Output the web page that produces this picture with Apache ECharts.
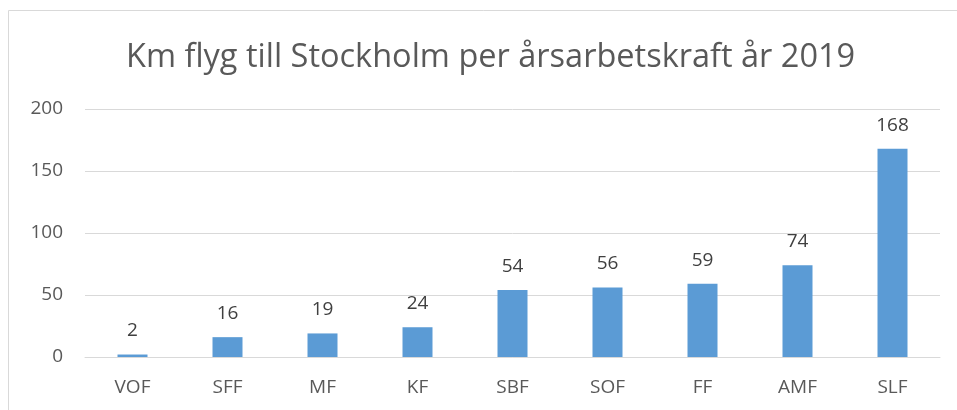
<!DOCTYPE html>
<html>
<head>
<meta charset="utf-8">
<script src="https://cdn.jsdelivr.net/npm/echarts@6/dist/echarts.min.js"></script>
<style>
  html, body { margin: 0; padding: 0; background: #fff; }
  #chart_div { width: 957px; height: 410px; }
</style>
</head>
<body>
<div id="chart_div"></div>
<script>
const titleText = "Km flyg till Stockholm per årsarbetskraft år 2019";
const categories = ["VOF", "SFF", "MF", "KF", "SBF", "SOF", "FF", "AMF", "SLF"];
const kmValues = [2, 16, 19, 24, 54, 56, 59, 74, 168];

const myChart = echarts.init(document.getElementById("chart_div"));
const option = {
  animation: false,
  textStyle: { fontFamily: "Open Sans" },
  graphic: [
    {
      type: "rect",
      shape: { x: 8.5, y: 10.5, width: 1000, height: 500 },
      style: { fill: "none", stroke: "#d9d9d9", lineWidth: 1 }
    }
  ],
  title: {
    text: titleText,
    left: 121,
    top: 36,
    textStyle: {
      fontFamily: "Open Sans",
      fontSize: 32.5,
      fontWeight: "normal",
      color: "#595959"
    }
  },
  grid: {
    left: 85,
    right: 17,
    top: 109,
    bottom: 53,
    containLabel: false
  },
  xAxis: {
    type: "category",
    data: categories,
    axisLine: { lineStyle: { color: "#d9d9d9", width: 1 } },
    axisTick: { show: false },
    axisLabel: { color: "#595959", fontSize: 19, margin: 21 }
  },
  yAxis: {
    type: "value",
    min: 0,
    max: 200,
    interval: 50,
    axisLine: { show: false },
    axisTick: { show: false },
    splitLine: { lineStyle: { color: "#d9d9d9", width: 1 } },
    axisLabel: { color: "#595959", fontSize: 19, margin: 22 }
  },
  series: [
    {
      type: "bar",
      data: kmValues,
      barWidth: 30,
      itemStyle: { color: "#5b9bd5" },
      label: {
        show: true,
        position: "top",
        distance: 14,
        color: "#404040",
        fontSize: 19
      }
    }
  ]
};
myChart.setOption(option);
</script>
</body>
</html>
